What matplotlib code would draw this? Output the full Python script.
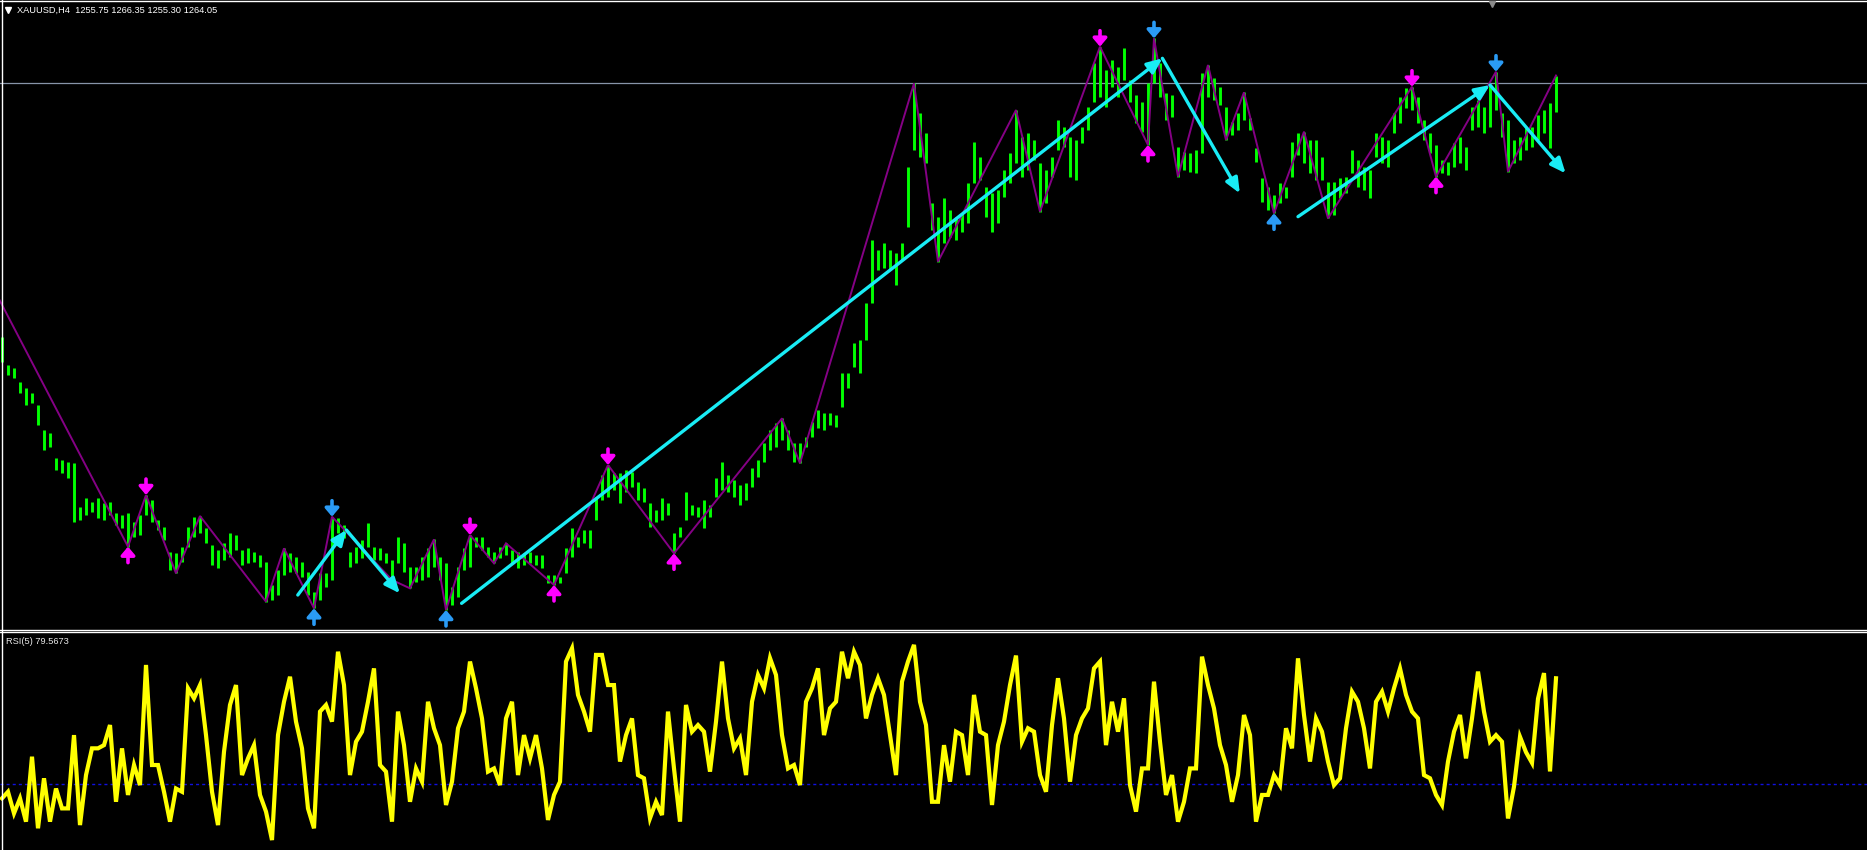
import matplotlib
matplotlib.use("Agg")
import matplotlib.pyplot as plt
from matplotlib.lines import Line2D
import numpy as np

# ---------------- data ----------------
symbol_header = "XAUUSD,H4  1255.75 1266.35 1255.30 1264.05"
rsi_header = "RSI(5) 79.5673"
last_close = 1264.05
rsi_level = 30

bar_high = [
 1188, 1179.5, 1178.5, 1174.5, 1172.5, 1171, 1167.5, 1160, 1159, 1151.5,
 1151, 1150.5, 1150, 1137, 1139.5, 1138.5, 1139.5, 1138, 1138.5, 1135,
 1134.5, 1135, 1132.5, 1134.5, 1140.5, 1139, 1133, 1131, 1123.5, 1123,
 1125, 1131, 1133.8, 1134.2, 1130.5, 1125.5, 1124, 1126, 1129, 1128.5,
 1124, 1124.5, 1123.5, 1122.5, 1120.5, 1113.5, 1118, 1124.5, 1123, 1122,
 1120.5, 1117.5, 1111.5, 1117, 1117, 1134, 1133.5, 1131.5, 1123.5, 1125,
 1127, 1132, 1125, 1124.5, 1123, 1121, 1128, 1126, 1119, 1119,
 1122, 1124.5, 1127.2, 1122, 1120, 1113, 1119, 1124.5, 1128.5, 1128,
 1128, 1125, 1123.5, 1125, 1126, 1124, 1123.5, 1123, 1123.5, 1122.5,
 1122.5, 1116.5, 1116.5, 1116, 1124.5, 1130.5, 1128, 1130, 1130, 1140,
 1146.5, 1149.5, 1147, 1147, 1148, 1147.5, 1144.5, 1142.5, 1138, 1136,
 1139.5, 1138, 1129, 1131, 1141.5, 1137.5, 1137, 1139, 1137.5, 1145.5,
 1150.5, 1146.5, 1145, 1143.5, 1144, 1148.5, 1151, 1156, 1160, 1162,
 1163.5, 1160, 1156, 1156, 1158, 1162.5, 1166, 1165, 1165, 1164.5,
 1177, 1177, 1186, 1187, 1198, 1217, 1214, 1216, 1214, 1213,
 1216, 1239, 1264, 1255, 1249, 1228, 1224, 1229.5, 1226, 1224,
 1225, 1234, 1246.5, 1242, 1233, 1231, 1232, 1238, 1243, 1256,
 1248, 1249, 1247, 1240, 1238, 1242, 1253, 1251, 1248, 1247,
 1251, 1257, 1270, 1275, 1268, 1271, 1269, 1274.5, 1265, 1260.5,
 1258.5, 1264, 1277.5, 1270, 1261, 1260.5, 1245, 1243.5, 1243, 1244,
 1267, 1269.5, 1265.5, 1263, 1257, 1252.5, 1255, 1261.3, 1253.5, 1244.5,
 1235.5, 1233, 1230.5, 1234, 1233, 1246.5, 1249, 1249.5, 1247, 1247,
 1242, 1234.5, 1234.5, 1235.5, 1236, 1244, 1241, 1239, 1238, 1249,
 1248, 1247, 1255, 1260, 1262.5, 1263, 1260, 1253, 1249, 1245.5,
 1241, 1240.5, 1246, 1248, 1245, 1257, 1259, 1257, 1263.5, 1267.5,
 1255, 1253, 1247, 1248, 1250.5, 1251, 1254.5, 1256, 1258, 1266.35,
]
bar_low = [
 1180.5, 1176.5, 1175.5, 1171, 1167.5, 1168, 1161.5, 1154, 1155, 1148,
 1147, 1145.5, 1132.5, 1133, 1134.5, 1135.5, 1133.5, 1133, 1134.5, 1131.5,
 1130.5, 1125, 1128, 1128.5, 1134.5, 1132.5, 1130, 1127, 1118, 1117,
 1120.5, 1125, 1128, 1129, 1126, 1119.5, 1118.5, 1121, 1122, 1124,
 1119.5, 1120, 1120.5, 1119, 1108.5, 1109, 1110.5, 1116.5, 1117.5, 1117,
 1116, 1110.5, 1106.5, 1109, 1113, 1115, 1129, 1127.5, 1119, 1120,
 1121.5, 1125, 1121, 1121, 1120, 1115, 1120, 1117.5, 1112.5, 1114.5,
 1115, 1116, 1119, 1115, 1106, 1107.5, 1110, 1118, 1119, 1125,
 1124, 1122, 1120, 1121.5, 1122.5, 1120, 1118.5, 1119.5, 1120, 1119.5,
 1118.5, 1114, 1113.5, 1114, 1117, 1122, 1125, 1126, 1124.5, 1133,
 1139, 1140, 1142, 1138, 1141.5, 1143, 1139, 1138.5, 1131, 1132.5,
 1133, 1134.5, 1123, 1128, 1133, 1134.5, 1134, 1130.5, 1134, 1140,
 1142, 1141.5, 1140, 1137.5, 1139, 1143, 1146, 1150.5, 1154, 1155,
 1157, 1154, 1150.5, 1150, 1155, 1158, 1160.5, 1160, 1161.5, 1161,
 1167, 1172.5, 1179, 1177, 1187, 1198, 1208, 1208.5, 1208, 1203.5,
 1211, 1221, 1244, 1242, 1240, 1220, 1210.5, 1216, 1218, 1217,
 1219.5, 1222, 1234, 1235, 1224, 1219.5, 1222, 1230, 1234, 1240,
 1236, 1238, 1241, 1225.5, 1228, 1236, 1244, 1245, 1236, 1235,
 1246, 1250, 1258.5, 1260, 1257, 1263, 1260, 1265, 1258.5, 1252,
 1249.5, 1245.5, 1264, 1260, 1253, 1254, 1236, 1238, 1237.5, 1237,
 1243, 1260, 1259, 1257.5, 1247, 1248.5, 1250, 1253, 1250, 1240.5,
 1228.5, 1226, 1225, 1228, 1229.5, 1236, 1242.5, 1240, 1237, 1235,
 1235, 1223.5, 1224.5, 1229.5, 1231, 1237, 1233, 1232, 1229.5, 1242,
 1240, 1239, 1249, 1252, 1256.5, 1256, 1252, 1247, 1243, 1236,
 1237, 1236.5, 1239, 1240, 1238, 1250, 1251, 1249, 1251, 1256,
 1248, 1237.5, 1240, 1241, 1244, 1245, 1247, 1249, 1244.5, 1255.30,
]

rsi = [
 23.4, 26.5, 16.4, 23.4, 12.5, 42.9, 9.4, 32.8, 12.5, 28.0,
 18.7, 18.7, 53.0, 10.9, 34.3, 46.8, 46.8, 48.3, 57.7, 21.8,
 46.8, 25.0, 39.0, 29.6, 85.8, 39.0, 39.0, 26.5, 12.5, 28.0,
 26.5, 74.9, 70.2, 76.4, 53.0, 26.5, 10.9, 45.2, 67.1, 76.4,
 34.3, 42.1, 48.3, 25.0, 17.2, 3.9, 53.0, 68.6, 80.3, 59.3,
 46.8, 18.7, 9.4, 64.0, 67.1, 59.3, 92.0, 76.4, 34.3, 49.9,
 54.6, 68.6, 84.2, 39.0, 35.9, 12.5, 64.0, 48.3, 21.8, 37.4,
 31.2, 68.6, 56.2, 48.3, 20.3, 31.2, 56.2, 64.0, 87.4, 74.9,
 60.8, 35.9, 37.4, 29.6, 60.8, 68.6, 34.3, 53.0, 42.1, 53.0,
 37.4, 13.3, 25.0, 31.2, 87.4, 93.6, 71.8, 64.0, 54.6, 90.5,
 90.5, 76.4, 76.4, 40.6, 53.0, 60.8, 34.3, 32.8, 14.1, 21.8,
 15.6, 64.0, 37.4, 12.5, 67.1, 54.6, 57.7, 54.6, 35.9, 59.3,
 87.4, 60.8, 46.8, 51.5, 34.3, 68.6, 81.1, 74.9, 89.0, 81.1,
 53.0, 37.4, 39.0, 29.6, 68.6, 74.9, 84.2, 53.0, 65.5, 68.6,
 92.0, 79.6, 92.0, 85.8, 60.8, 71.8, 79.6, 71.8, 53.0, 34.3,
 78.0, 87.4, 95.2, 68.6, 57.7, 21.8, 21.8, 48.3, 31.2, 54.6,
 53.0, 34.3, 71.8, 54.6, 53.0, 20.3, 48.3, 59.3, 76.4, 90.2,
 49.9, 56.2, 54.6, 34.3, 26.5, 57.7, 79.6, 60.8, 31.2, 53.0,
 60.8, 65.5, 84.2, 87.4, 48.3, 68.6, 54.6, 70.2, 29.6, 17.2,
 37.4, 37.4, 78.0, 49.9, 25.0, 34.3, 12.5, 21.8, 37.4, 37.4,
 89.7, 76.4, 65.5, 48.3, 39.0, 21.8, 34.3, 62.4, 53.0, 12.5,
 25.0, 25.0, 34.3, 29.6, 56.2, 46.8, 88.9, 62.4, 40.6, 60.8,
 54.6, 40.6, 29.6, 32.8, 56.2, 73.3, 68.6, 56.2, 37.4, 68.6,
 73.3, 64.0, 74.9, 84.2, 71.8, 64.0, 60.8, 34.3, 32.8, 25.0,
 20.3, 40.6, 54.6, 62.4, 42.1, 60.8, 82.7, 64.0, 49.9, 53.0,
 49.9, 14.0, 28.9, 52.2, 45.0, 40.0, 70.0, 82.0, 36.0, 79.5673,
]

# ZigZag: line enters from an off-screen pivot, then pivots on bar highs (H) / lows (L)
zz_entry_index = -1
zz_entry_price = 1201.0
zz_index = [21, 24, 29, 33, 44, 47, 52, 55, 65, 68, 72, 74, 78, 82, 84, 92, 101, 112,
            130, 133, 152, 156, 169, 173, 183, 191, 192, 196, 201, 204, 207, 212,
            217, 221, 235, 239, 249, 251, 259]
zz_kind = ["L", "H", "L", "H", "L", "H", "L", "H", "L", "L", "H", "L", "H", "L", "H", "L", "H", "L",
           "H", "L", "H", "L", "H", "L", "H", "L", "H", "L", "H", "L", "H", "L",
           "H", "L", "H", "L", "H", "L", "H"]

# pivot signal arrows
magenta_index = [21, 24, 78, 92, 101, 112, 183, 191, 235, 239]
magenta_kind = ["L", "H", "H", "L", "H", "L", "H", "L", "H", "L"]
blue_index = [52, 55, 74, 192, 212, 249]
blue_kind = ["L", "H", "L", "H", "L", "H"]

# cyan trend arrows (start bar, start price, end bar, end price)
trend_x0 = [49.3, 57.4, 76.6, 193.4, 216.0, 248.0]
trend_y0 = [1110.5, 1130.0, 1108.0, 1271.5, 1224.0, 1263.5]
trend_x1 = [57.4, 66.3, 193.4, 206.3, 248.0, 260.6]
trend_y1 = [1130.0, 1111.0, 1271.5, 1231.0, 1263.5, 1237.0]

# ---------------- figure ----------------
W, H = 1867, 850
fig = plt.figure(figsize=(W / 100, H / 100), dpi=100, facecolor="black")

n = len(bar_high)
idx = np.arange(n)
high = np.array(bar_high)
low = np.array(bar_low)
xlim = (-1 / 3, (W - 2) / 6)

ax1 = fig.add_axes([0, 220 / H, 1, 630 / H])
ax1.set_facecolor("black")
ax1.set_xlim(*xlim)
ax1.set_ylim(1100, 1289)
ax1.axis("off")

ax1.axhline(last_close, color="#8794A8", lw=0.9, zorder=1)
ax1.vlines(idx, low, high, color="#00FF00", lw=2.1, zorder=2)

zz_x = [zz_entry_index] + zz_index
zz_y = [zz_entry_price] + [high[i] if k == "H" else low[i] for i, k in zip(zz_index, zz_kind)]
ax1.plot(zz_x, zz_y, color="#850085", lw=1.4, zorder=3, solid_joinstyle="miter")


def pivot_arrow(ax, i, kind, color):
    if kind == "H":
        y = high[i]
        off = 11.5
    else:
        y = low[i]
        off = -11.5
    ax.annotate("", xy=(i, y), xytext=(0, off), textcoords="offset points",
                arrowprops=dict(arrowstyle="-|>,head_length=0.4,head_width=0.34",
                                mutation_scale=12, lw=2.6, color=color,
                                shrinkA=0, shrinkB=0), zorder=6)


for i, k in zip(magenta_index, magenta_kind):
    pivot_arrow(ax1, i, k, "#FF00FF")
for i, k in zip(blue_index, blue_kind):
    pivot_arrow(ax1, i, k, "#2A9BF5")

for x0, y0, x1, y1 in zip(trend_x0, trend_y0, trend_x1, trend_y1):
    ax1.annotate("", xy=(x1, y1), xytext=(x0, y0), textcoords="data",
                 arrowprops=dict(arrowstyle="-|>,head_length=0.6,head_width=0.26",
                                 mutation_scale=15, lw=2.4, color="#19ECF5",
                                 shrinkA=0, shrinkB=0), zorder=5)

# ---------------- RSI pane ----------------
ax2 = fig.add_axes([0, 0, 1, 217 / H])
ax2.set_facecolor("black")
ax2.set_xlim(*xlim)
ax2.set_ylim(-0.75, 100.75)
ax2.axis("off")
ax2.axhline(rsi_level, color="#1010E0", lw=1.0, dashes=(2.2, 2.2), zorder=1)
ax2.plot(np.arange(len(rsi)), rsi, color="#FFFF00", lw=3.0, zorder=2,
         solid_joinstyle="miter")

# ---------------- frame and labels ----------------
def hline(y_px, x0=0, x1=W, color="white", lw=1.0):
    fig.add_artist(Line2D([x0 / W, x1 / W], [1 - y_px / H, 1 - y_px / H],
                          transform=fig.transFigure, color=color, lw=lw))


def vline(x_px, y0=0, y1=H, color="white", lw=1.0):
    fig.add_artist(Line2D([x_px / W, x_px / W], [1 - y0 / H, 1 - y1 / H],
                          transform=fig.transFigure, color=color, lw=lw))


hline(0.8)
hline(629.8)
hline(632.2)
vline(1.5)

fig.add_artist(Line2D([8 / W], [1 - 9.5 / H], transform=fig.transFigure, marker="v",
                      markersize=4.2, color="white", linestyle="none"))
fig.add_artist(Line2D([1492 / W], [1 - 3.5 / H], transform=fig.transFigure, marker="v",
                      markersize=5, color="#8A8A8A", linestyle="none"))

fig.text(17 / W, 1 - 10 / H, symbol_header, color="white", fontsize=6.7,
         family="Liberation Sans", va="center", ha="left")
fig.text(6 / W, 1 - 642 / H, rsi_header, color="#E8E8E8", fontsize=6.7,
         family="Liberation Sans", va="center", ha="left")

fig.savefig("out.png", dpi=100, facecolor="black")
